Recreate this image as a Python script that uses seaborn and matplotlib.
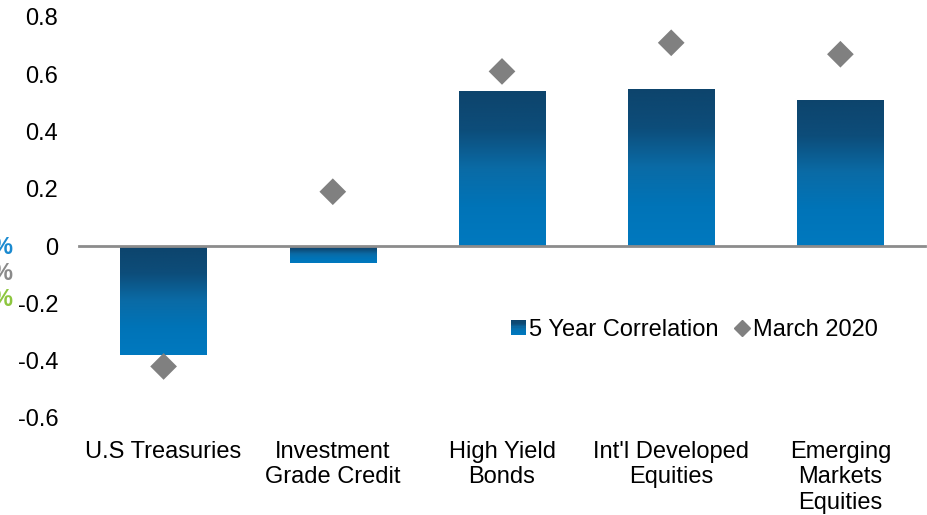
import numpy as np
import pandas as pd
import matplotlib
matplotlib.use("Agg")
import matplotlib.pyplot as plt
import seaborn as sns
from matplotlib.colors import LinearSegmentedColormap
from matplotlib.lines import Line2D
from matplotlib.patches import Rectangle
from matplotlib.legend_handler import HandlerPatch

# Data
categories = ["U.S Treasuries", "Investment\nGrade Credit", "High Yield\nBonds",
              "Int'l Developed\nEquities", "Emerging\nMarkets\nEquities"]
five_year_corr = [-0.38, -0.06, 0.54, 0.55, 0.51]
march_2020 = [-0.42, 0.19, 0.61, 0.71, 0.67]
y_ticks = [0.8, 0.6, 0.4, 0.2, 0, -0.2, -0.4, -0.6]
y_tick_labels = ["0.8", "0.6", "0.4", "0.2", "0", "-0.2", "-0.4", "-0.6"]

df = pd.DataFrame({"category": categories,
                   "corr": five_year_corr,
                   "march": march_2020})

sns.set_style("white")
plt.rcParams["font.family"] = ["Liberation Sans", "DejaVu Sans"]
plt.rcParams["text.color"] = "black"
plt.rcParams["xtick.color"] = "black"
plt.rcParams["ytick.color"] = "black"

W, H = 927, 515
FS = 17
fig = plt.figure(figsize=(W / 100, H / 100), dpi=100)
ax = fig.add_axes([79 / W, (H - 418) / H, (925 - 79) / W, (418 - 17) / H])

sns.barplot(data=df, x="category", y="corr", color="#0a6aa3", width=0.51,
            ax=ax, zorder=2)

# Vertical blue gradient inside each bar (dark at the top edge)
grad_cmap = LinearSegmentedColormap.from_list(
    "bar_grad", [(0.0, "#0d446c"), (0.25, "#0d4d7a"), (0.5, "#0a6ba6"),
                 (0.75, "#0074b8"), (1.0, "#0079bf")])
grad = np.linspace(0, 1, 256).reshape(-1, 1)
for patch in list(ax.patches):
    x0, y0 = patch.get_x(), patch.get_y()
    w, h = patch.get_width(), patch.get_height()
    top, bottom = max(y0, y0 + h), min(y0, y0 + h)
    im = ax.imshow(grad, cmap=grad_cmap, aspect="auto",
                   extent=[x0, x0 + w, bottom, top], origin="upper", zorder=3)
    im.set_clip_path(patch)
    patch.set_facecolor("none")
    patch.set_edgecolor("none")

sns.scatterplot(data=df, x="category", y="march", marker="D", s=185,
                color="#808080", edgecolor="none", ax=ax, zorder=4, legend=False)

ax.set_xlim(-0.5, len(categories) - 0.5)
ax.set_ylim(-0.6, 0.8)
ax.set_xlabel("")
ax.set_ylabel("")

# Axis styling: zero baseline with boundary ticks, no other spines
for side in ["top", "right", "left"]:
    ax.spines[side].set_visible(False)
ax.spines["bottom"].set_position(("data", 0))
ax.spines["bottom"].set_color("#8c8c8c")
ax.spines["bottom"].set_linewidth(2)
ax.spines["bottom"].set_zorder(5)

ax.set_xticks(range(len(categories)))
ax.set_xticklabels(categories, fontsize=FS, linespacing=1.22)
ax.set_xticks(np.arange(-0.5, len(categories), 1.0), minor=True)
ax.tick_params(axis="x", which="major", length=0, pad=140)
ax.tick_params(axis="x", which="minor", length=5, width=1.8,
               color="#8c8c8c", direction="out")

ax.set_yticks(y_ticks)
ax.set_yticklabels(y_tick_labels, fontsize=FS)
ax.tick_params(axis="y", length=0, pad=15)
ax.grid(False)


class GradientSquareHandler(HandlerPatch):
    """Legend key: a small square shaded dark-to-light like the bars."""
    def create_artists(self, legend, orig_handle, xdescent, ydescent,
                       width, height, fontsize, trans):
        size = 10.8
        x = (width - size) / 2 - xdescent
        y = (height - size) / 2 - ydescent
        n = 12
        artists = []
        for i in range(n):
            frac = (i + 0.5) / n
            artists.append(Rectangle((x, y + size * (1 - (i + 1) / n)), size,
                                     size / n + 0.05, facecolor=grad_cmap(frac),
                                     edgecolor="none", transform=trans))
        return artists


bar_handle = Rectangle((0, 0), 1, 1, facecolor="#0a6aa3")
diamond_handle = Line2D([], [], marker="D", color="#808080", linestyle="none",
                        markersize=8.1)
leg = fig.legend([bar_handle, diamond_handle], ["5 Year Correlation", "March 2020"],
                 handler_map={Rectangle: GradientSquareHandler()},
                 loc="center left", bbox_to_anchor=(510 / W, 1 - 330 / H),
                 ncol=2, frameon=False, fontsize=FS, handlelength=0.7,
                 handletextpad=0.1, columnspacing=0.65, borderaxespad=0,
                 borderpad=0)

# Partially visible markers at the left margin
for yy, col in [(247, "#1b8ad0"), (273, "#8a8a8a"), (299, "#8dc63f")]:
    fig.text(12 / W, 1 - yy / H, "%", color=col, fontsize=FS, fontweight="bold",
             ha="right", va="center")

fig.savefig("out.png", dpi=100)
